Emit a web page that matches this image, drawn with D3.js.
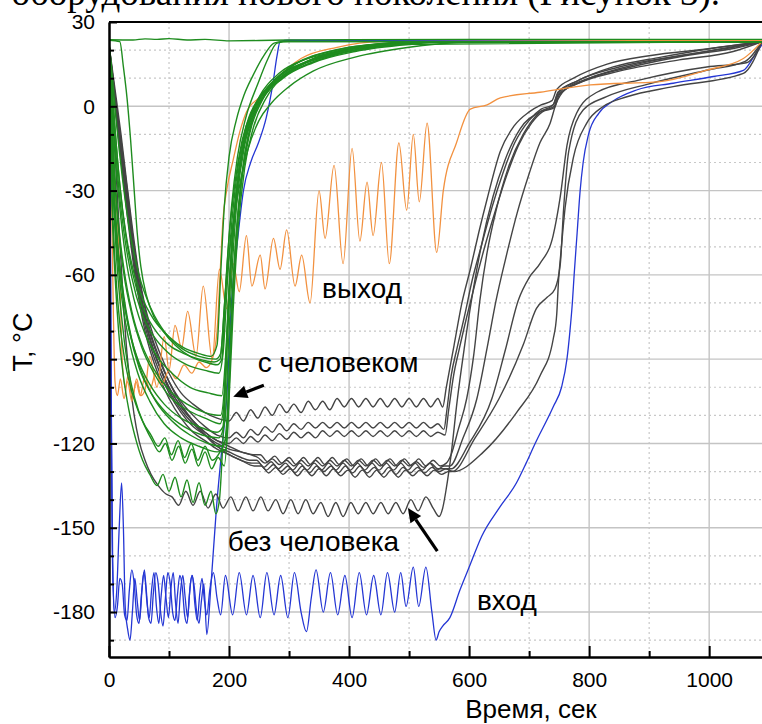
<!DOCTYPE html>
<html><head><meta charset="utf-8">
<script src="https://cdn.jsdelivr.net/npm/d3@7"></script>
<style>body{margin:0;background:#fff;} svg{display:block;}</style>
</head><body><svg id="c" width="762" height="724"></svg>
<script>
// ---------- axis ticks / texts ----------
const xTicks = [0,200,400,600,800,1000];
const xMinor = [100,300,500,700,900];
const yTicks = [30,0,-30,-60,-90,-120,-150,-180];
const yMinor = [20,10,-10,-20,-40,-50,-70,-80,-100,-110,-130,-140,-160,-170,-190];
const xTitle = "Время, сек";
const yTitle = "T, °C";
const topText = "оборудования нового поколения (Рисунок 3).";
const labelTexts = ["выход","с человеком","без человека","вход"];

// ---------- blue (вход) ----------
const blueLong = [[0,22],[2,-20],[4,-110],[6,-160],[9,-180],[13,-172],[17,-150],[21,-134],[24,-150],[27,-178],[31,-186],[35,-190],[39,-180],[43,-168],[47,-176],[51,-183],[55,-172],[59,-165],[63,-176],[67,-182],[71,-172],[75,-166],[79,-178],[83,-184],[87,-174],[91,-167],[95,-175],[99,-182],[103,-172],[107,-166],[111,-177],[115,-184],[119,-173],[123,-167],[127,-175],[131,-182],[135,-171],[139,-167],[143,-177],[147,-183],[151,-174],[155,-168],[159,-176],[163,-181],[168,-172],[174,-166],[180,-175],[186,-181],[194,-167],[206,-181],[217,-166],[229,-181],[240,-167],[252,-182],[263,-166],[275,-181],[286,-167],[298,-182],[309,-166],[320,-180],[329,-187],[337,-175],[345,-165],[357,-180],[369,-166],[381,-181],[393,-167],[405,-182],[417,-166],[429,-181],[441,-167],[453,-181],[464,-166],[476,-180],[486,-166],[495,-178],[507,-164],[516,-178],[528,-164],[538,-180],[545,-190],[550,-187],[556,-185],[568,-182],[585,-172],[602,-163],[621,-153],[650,-143],[679,-134],[695,-127],[710,-120],[740,-107],[754,-100],[763,-90],[768,-80],[772,-70],[775,-60],[780,-45],[785,-30],[790,-20],[799,-10],[816,-2.5],[838,1.6],[879,5.8],[940,8.2],[1007,10.6],[1057,12.8],[1074,17.5],[1088,22]];
const blueShort = [[0,22],[1,0],[3,-90],[5,-150],[7,-172],[10,-182],[14,-178],[18,-168],[22,-170],[26,-181],[30,-183],[34,-172],[38,-165],[42,-170],[46,-181],[50,-184],[54,-174],[58,-166],[62,-172],[66,-182],[70,-184],[74,-173],[78,-166],[82,-170],[86,-180],[90,-185],[94,-175],[98,-166],[102,-170],[106,-180],[110,-183],[114,-174],[118,-167],[122,-171],[126,-181],[130,-184],[134,-174],[138,-167],[142,-171],[146,-180],[150,-184],[154,-176],[158,-170],[163,-188],[170,-170],[179,-143],[188,-122],[196,-104],[204,-70],[214,-48],[224,-30],[236,-20],[249,-13],[262,-4],[273,8],[280,18],[285,23],[300,23.5],[1088,23.5]];

// ---------- orange (выход) ----------
const orangeA = [[0,22],[3,8],[6,-10],[10,-30],[14,-40],[18,-62],[22,-90],[27,-100],[33,-95],[39,-104],[46,-97],[53,-103],[60,-101],[68,-89],[80,-100],[92,-82],[100,-94],[110,-78],[121,-86],[131,-73],[145,-89],[157,-64],[172,-90],[184,-58],[196,-72],[207,-56],[217,-66],[229,-46],[238,-64],[252,-53],[260,-65],[274,-47],[285,-58],[296,-44],[310,-64],[321,-53],[335,-70],[350,-30],[360,-47],[375,-21],[390,-56],[405,-15],[418,-48],[430,-27],[440,-46],[454,-20],[467,-56],[483,-13],[496,-37],[507,-10],[517,-34],[530,-6],[546,-52],[557,-30],[579,-13],[602,-1],[630,0.5],[652,3],[718,5],[802,7.6],[918,8.8],[996,12.9],[1057,17],[1088,23]];
const orangeB = [[0,22],[2,5],[4,-30],[7,-70],[10,-98],[14,-103],[19,-97],[25,-104],[31,-98],[38,-105],[45,-98],[52,-103],[60,-96],[68,-101],[78,-95],[88,-99],[100,-94],[112,-97],[125,-92],[138,-95],[150,-91],[162,-93],[172,-90],[180,-80],[185,-60],[190,-40],[196,-30],[207,-19],[218,-9],[229,-2],[252,3.4],[280,10],[320,17],[380,21],[450,23],[1088,23.5]];

// ---------- green (с человеком) ----------
const green01 = [[0,23.5],[18,23],[24,14],[30,3],[36,-12],[42,-30],[47,-45],[53,-57],[62,-67],[75,-75],[90,-80],[110,-85],[135,-89],[160,-91],[180,-92],[188,-90],[195,-62],[204,-36],[214,-18],[228,-4],[248,8],[265,17],[280,22.5],[300,23],[1088,23]];
const green02 = [[0,23],[4,10],[10,-8],[18,-28],[28,-46],[40,-60],[55,-71],[75,-79],[100,-85],[125,-88],[150,-90],[175,-91],[185,-90],[192,-72],[200,-47],[210,-27],[222,-12],[240,-1],[265,7],[300,13],[350,17],[420,20.5],[500,22.3],[580,23],[1088,23]];
const green03 = [[0,23],[3,12],[8,-6],[15,-26],[25,-45],[38,-61],[55,-74],[75,-82],[100,-88],[130,-92],[160,-94],[183,-95],[190,-88],[198,-60],[206,-38],[216,-20],[230,-6],[250,3],[280,9],[320,14],[380,18.5],[460,21.5],[540,23],[1088,23]];
const green04 = [[0,23],[3,8],[9,-14],[17,-34],[28,-54],[42,-69],[60,-81],[80,-89],[105,-95],[135,-100],[165,-102],[188,-103],[194,-90],[200,-65],[208,-40],[218,-20],[232,-6],[252,4],[285,12],[330,17],[400,21],[480,22.5],[540,23],[1088,23]];
const green05 = [[0,23],[3,5],[8,-20],[15,-42],[25,-60],[38,-74],[55,-86],[75,-95],[100,-103],[130,-108],[160,-111],[185,-113],[192,-105],[198,-76],[206,-46],[215,-26],[228,-11],[248,1],[280,10],[330,16],[400,20.5],[500,22.8],[1088,23]];
const green06 = [[0,22],[2,5],[6,-22],[12,-45],[20,-62],[32,-78],[48,-90],[68,-99],[92,-106],[120,-111],[150,-114],[180,-116],[190,-114],[196,-86],[203,-56],[212,-31],[224,-13],[242,-1],[270,8],[310,15],[370,19],[450,22],[520,23],[1088,23]];
const green07 = [[0,23],[3,0],[8,-28],[15,-50],[25,-68],[38,-83],[55,-95],[78,-105],[105,-112],[135,-117],[165,-120],[190,-121],[197,-110],[203,-80],[210,-52],[220,-28],[234,-10],[255,2],[290,10],[340,15.5],[410,19.5],[500,22],[580,23],[1088,23]];
const green08 = [[0,23],[2,2],[6,-25],[12,-48],[20,-66],[32,-82],[48,-95],[68,-105],[92,-113],[120,-118],[150,-121],[180,-123],[195,-122],[201,-100],[207,-72],[215,-44],[226,-22],[240,-8],[262,3],[300,12],[360,18],[440,21.5],[520,23],[1088,23]];
const green09 = [[0,23],[2,0],[5,-30],[10,-55],[17,-75],[26,-90],[36,-100],[48,-108],[60,-114],[72,-119],[84,-123],[94,-120],[105,-126],[116,-121],[127,-127],[138,-122],[149,-128],[160,-123],[171,-129],[182,-125],[192,-128],[198,-112],[204,-78],[212,-48],[222,-24],[236,-7],[256,3],[290,11],[340,17],[420,21],[520,23],[1088,23]];
const green10 = [[0,23],[2,-5],[5,-35],[10,-60],[16,-80],[24,-96],[33,-108],[44,-118],[56,-126],[68,-131],[80,-135],[90,-131],[100,-137],[110,-132],[120,-139],[130,-133],[140,-141],[150,-134],[160,-142],[170,-137],[178,-145],[184,-140],[190,-118],[196,-88],[203,-58],[212,-33],[224,-14],[242,-1],[270,8],[310,15],[380,20],[470,22.5],[540,23],[1088,23]];
const green11 = [[0,23],[3,-2],[7,-30],[13,-55],[21,-75],[31,-92],[43,-104],[56,-112],[70,-117],[82,-121],[93,-118],[104,-124],[115,-119],[126,-125],[137,-120],[148,-126],[160,-121],[172,-126],[185,-123],[195,-118],[201,-92],[207,-62],[215,-37],[226,-17],[242,-3],[265,6],[305,13],[370,19],[460,22],[540,23],[1088,23]];
const green12 = [[0,23],[5,12],[12,-5],[22,-25],[35,-45],[50,-60],[70,-72],[95,-81],[120,-86],[150,-89],[178,-90],[186,-88],[194,-66],[204,-46],[216,-30],[232,-15],[250,-5],[270,1],[300,7],[340,12.5],[410,17.5],[500,21],[580,22.7],[640,23],[1088,23]];
const green13 = [[0,23],[3,6],[8,-18],[15,-40],[25,-58],[38,-73],[55,-85],[76,-94],[100,-101],[130,-106],[160,-109],[186,-110],[193,-98],[199,-70],[207,-42],[217,-22],[230,-8],[250,2],[280,9],[325,14.5],[390,19],[480,22],[560,23],[1088,23]];
const green14 = [[0,23.7],[40,23.6],[60,24],[80,23.8],[100,24.1],[130,23.6],[160,23.8],[200,23.3],[250,23.4],[300,23.6],[400,23.7],[600,23.8],[800,23.8],[1088,23.8]];
const green15 = [[0,23],[4,10],[10,-8],[18,-28],[28,-45],[40,-58],[55,-68],[75,-76],[100,-82],[125,-86],[150,-88],[170,-89],[180,-85],[186,-60],[192,-36],[200,-18],[212,-5],[225,4],[240,11],[258,18],[275,22.5],[290,23],[1088,23]];
const green16 = [[0,23],[2,4],[7,-24],[13,-46],[22,-65],[34,-80],[50,-93],[70,-102],[95,-109],[125,-114],[155,-117],[183,-118],[193,-112],[199,-85],[206,-55],[214,-32],[226,-14],[244,-2],[272,7],[315,14],[380,19],[470,22],[1088,23]];

// ---------- gray (без человека) ----------
const gray01 = [[0,22],[5,14],[10,6],[20,-10],[30,-28],[40,-45],[50,-60],[60,-71],[70,-79],[85,-88],[100,-95],[120,-102],[140,-106],[160,-109],[180,-111],[200,-112],[212,-109],[224,-112],[236,-108],[248,-111],[260,-107],[272,-110],[284,-106],[296,-109],[308,-106],[320,-109],[332,-105],[344,-108],[356,-105],[368,-108],[380,-104],[392,-107],[404,-104],[416,-107],[428,-104],[440,-107],[452,-104],[464,-107],[476,-104],[488,-107],[500,-104],[512,-107],[524,-104],[536,-107],[548,-104],[556,-107],[562,-100],[575,-85],[588,-70],[602,-58],[616,-45],[630,-33],[652,-16],[675,-7],[700,-2],[720,0.5],[738,2],[746,6],[774,10],[830,15],[900,18],[1000,20.5],[1088,23]];
const gray02 = [[0,22],[5,13],[10,4],[20,-13],[30,-31],[40,-49],[50,-63],[60,-74],[70,-82],[85,-91],[100,-98],[120,-105],[140,-110],[160,-114],[180,-117],[200,-118],[212,-116],[224,-118],[236,-115],[248,-117],[260,-114],[272,-116],[284,-113],[296,-115.5],[308,-113],[320,-115],[332,-112.5],[344,-114.5],[356,-112.5],[368,-114.5],[380,-112.5],[392,-114.5],[404,-112.5],[416,-114.5],[428,-112.5],[440,-114.5],[452,-112.5],[464,-114.5],[476,-112.5],[488,-114.5],[500,-112.5],[512,-114.5],[524,-112.5],[536,-114.5],[548,-113],[558,-115],[563,-108],[570,-96],[580,-86],[592,-75],[605,-62],[620,-50],[638,-36],[656,-24],[676,-13],[700,-5],[720,-1],[740,0.5],[748,4.5],[780,9],[850,14],[950,18],[1040,21],[1088,23]];
const gray03 = [[0,22],[5,12],[10,2],[20,-16],[30,-34],[40,-51],[50,-65],[60,-76],[70,-84],[85,-93],[100,-100],[120,-107],[140,-112],[160,-116],[180,-119],[200,-120],[212,-118],[224,-120],[236,-117.5],[248,-119.5],[260,-117],[272,-119],[284,-116.5],[296,-118.5],[308,-116],[320,-118],[332,-116],[344,-118],[356,-115.5],[368,-117.5],[380,-115.5],[392,-117.5],[404,-115.5],[416,-117.5],[428,-115.5],[440,-117.5],[452,-115.5],[464,-117.5],[476,-115.5],[488,-117.5],[500,-115.5],[512,-117.5],[524,-115.5],[536,-117.5],[548,-116],[560,-117],[566,-108],[574,-96],[584,-86],[596,-75],[610,-63],[626,-50],[644,-37],[662,-25],[682,-14],[704,-6],[722,-2],[742,-0.5],[750,4],[790,9],[870,14],[960,18],[1050,21],[1088,23]];
const gray04 = [[0,22],[5,11],[10,1],[20,-17],[30,-36],[40,-53],[50,-67],[60,-78],[70,-86],[85,-95],[100,-102],[120,-109],[140,-114],[160,-117],[180,-120],[200,-122],[220,-123],[240,-124],[252,-124],[264,-126.5],[276,-124.5],[288,-127],[300,-125],[312,-127.5],[324,-125],[336,-127.5],[348,-125],[360,-127.5],[372,-125],[384,-127.5],[396,-125.5],[408,-128],[420,-125.5],[432,-128],[444,-125.5],[456,-128],[468,-125.5],[480,-128],[492,-125.5],[504,-128],[516,-125.5],[528,-128],[540,-126],[552,-128],[562,-127],[570,-124],[582,-115],[596,-104],[608,-88],[618,-69],[630,-52],[645,-37],[665,-22],[690,-10],[718,-2],[740,0.5],[748,5],[780,9],[840,14],[920,17.5],[1000,20.5],[1088,23]];
const gray05 = [[0,22],[5,12],[10,3],[20,-14],[30,-32],[40,-50],[50,-64],[60,-75],[70,-84],[85,-93],[100,-101],[120,-108],[140,-113],[160,-117],[180,-121],[200,-123],[220,-125],[234,-126],[246,-126],[258,-128.5],[270,-126.5],[282,-129],[294,-127],[306,-129.5],[318,-127],[330,-129.5],[342,-127],[354,-129.5],[366,-127],[378,-129.5],[390,-127],[402,-129.5],[414,-127],[426,-129.5],[438,-127],[450,-129.5],[462,-127],[474,-129.5],[486,-127],[498,-129.5],[510,-127],[522,-129.5],[534,-127],[546,-129.5],[558,-128],[568,-128],[590,-118],[613,-104],[630,-86],[645,-69],[660,-55],[680,-38],[700,-24],[718,-13],[735,-6],[745,1],[760,6],[800,10],[880,15],[980,19],[1088,23]];
const gray06 = [[0,22],[5,10],[10,0],[20,-19],[30,-38],[40,-55],[50,-69],[60,-80],[70,-88],[85,-97],[100,-104],[120,-111],[140,-116],[160,-119],[180,-122],[200,-124],[220,-126],[238,-127],[250,-127],[262,-129.5],[274,-127.5],[286,-130],[298,-128],[310,-130.5],[322,-128],[334,-130.5],[346,-128],[358,-130],[370,-128],[382,-130.5],[394,-128],[406,-130.5],[418,-128],[430,-130.5],[442,-128.5],[454,-131],[466,-128.5],[478,-131],[490,-128.5],[502,-130.5],[514,-128.5],[526,-130.5],[538,-128.5],[550,-130],[562,-129],[570,-129],[600,-120],[638,-104],[660,-87],[682,-69],[700,-61],[718,-56],[740,-46],[752,-32],[763,-14],[779,-2.5],[813,5],[885,9.4],[996,14],[1062,15.5],[1088,23]];
const gray07 = [[0,22],[5,13],[10,4],[20,-12],[30,-29],[40,-47],[50,-61],[60,-72],[70,-81],[85,-90],[100,-98],[120,-106],[140,-112],[160,-117],[180,-121],[200,-124],[220,-126],[242,-128],[254,-128],[266,-130.5],[278,-128.5],[290,-131],[302,-129],[314,-131.5],[326,-129],[338,-131.5],[350,-129],[362,-131.5],[374,-129],[386,-131.5],[398,-129.5],[410,-132],[422,-129.5],[434,-132],[446,-129.5],[458,-132],[470,-129.5],[482,-132],[494,-129.5],[506,-131.5],[518,-129.5],[530,-131.5],[542,-129.5],[554,-131],[566,-130],[572,-130],[610,-118],[650,-104],[690,-85],[712,-72],[730,-68],[743,-65],[752,-56],[757,-38],[766,-16],[790,-1.3],[829,3.4],[900,8],[1000,13],[1060,16],[1088,23]];
const gray08 = [[0,22],[5,11],[10,2],[20,-15],[30,-33],[40,-51],[50,-65],[60,-76],[70,-84],[85,-93],[100,-100],[120,-107],[140,-112],[160,-116],[180,-119],[200,-121],[220,-123],[236,-124],[248,-125],[260,-127],[272,-125.5],[284,-127.5],[296,-126],[308,-128],[320,-126],[332,-128],[344,-126],[356,-128],[368,-126],[380,-128],[392,-126],[404,-128],[416,-126],[428,-128],[440,-126],[452,-128],[464,-126],[476,-128],[488,-126],[500,-128],[512,-126.5],[524,-128.5],[536,-127],[548,-129],[560,-129],[574,-130],[624,-123],[679,-109],[718,-96],[740,-83],[746,-74],[749,-62],[753,-52],[760,-36],[774,-18],[796,-6],[824,0],[863,3.4],[940,7],[1057,11.7],[1088,23]];
const gray09 = [[0,22],[4,8],[8,-8],[13,-28],[18,-48],[24,-70],[30,-88],[36,-100],[42,-110],[50,-119],[60,-126],[70,-131],[82,-135],[95,-138],[105,-139],[116,-142],[128,-137],[140,-142],[152,-137],[165,-143],[178,-138],[190,-143],[203,-139],[215,-144],[228,-139],[240,-144],[253,-139],[265,-144],[278,-140],[290,-145],[303,-140],[315,-145],[328,-140],[340,-145],[353,-141],[365,-146],[378,-141],[390,-146],[403,-141],[415,-145],[428,-141],[440,-145],[453,-141],[465,-145],[478,-141],[490,-145],[503,-140],[515,-144],[528,-139],[540,-143],[550,-146],[556,-143],[562,-136],[570,-124],[580,-105],[592,-86],[604,-69],[620,-50],[640,-32],[660,-19],[685,-8],[718,-2],[742,0],[748,4],[780,8],[850,12.5],[950,16.5],[1040,19.5],[1088,23]];

const blueSeries = [blueLong, blueShort];
const graySeries = [gray01, gray02, gray03, gray04, gray05, gray06, gray07, gray08, gray09];
const orangeSeries = [orangeA, orangeB];
const greenSeries = [green01, green02, green03, green04, green05, green06, green07, green08, green09, green10, green11, green12, green13, green14, green15, green16];

// ---------- drawing ----------
const svg = d3.select("#c");
const L = 109, R = 762, T = 22, B = 657;
const x = d3.scaleLinear().domain([0, 1088]).range([L, R]);
const y = d3.scaleLinear().domain([-196, 30]).range([B, T]);

svg.append("text").attr("x", 720).attr("y", 5).attr("text-anchor", "end")
  .attr("font-family", "Liberation Serif, Times New Roman, serif").attr("font-size", 37)
  .attr("fill", "#000").text(topText);

const grid = svg.append("g");
grid.selectAll(".vmaj").data(xTicks.filter(d => d > 0)).join("line")
  .attr("x1", d => x(d)).attr("x2", d => x(d)).attr("y1", T).attr("y2", B)
  .attr("stroke", "#c4c4c4").attr("stroke-width", 1.4);
grid.selectAll(".vmin").data(xMinor).join("line").attr("class","vmin")
  .attr("x1", d => x(d)).attr("x2", d => x(d)).attr("y1", T).attr("y2", B)
  .attr("stroke", "#c8c8c8").attr("stroke-width", 1.2).attr("stroke-dasharray", "2,3");
grid.selectAll(".hmaj").data(yTicks.filter(d => d < 30)).join("line").attr("class","hmaj")
  .attr("x1", L).attr("x2", R).attr("y1", d => y(d)).attr("y2", d => y(d))
  .attr("stroke", "#c4c4c4").attr("stroke-width", 1.4);
grid.selectAll(".hmin").data(yMinor).join("line").attr("class","hmin")
  .attr("x1", L).attr("x2", R).attr("y1", d => y(d)).attr("y2", d => y(d))
  .attr("stroke", "#c8c8c8").attr("stroke-width", 1.2).attr("stroke-dasharray", "2,3");

svg.append("clipPath").attr("id", "clip").append("rect")
  .attr("x", L).attr("y", T).attr("width", R - L).attr("height", B - T);
const plot = svg.append("g").attr("clip-path", "url(#clip)");
const line = d3.line().x(d => x(d[0])).y(d => y(d[1])).curve(d3.curveMonotoneX);

function draw(series, color, w) {
  plot.append("g").selectAll("path").data(series).join("path")
    .attr("d", line).attr("fill", "none").attr("stroke", color)
    .attr("stroke-width", w).attr("stroke-linejoin", "round");
}
draw(blueSeries, "#2436d4", 1.3);
draw(graySeries, "#444444", 1.4);
draw(orangeSeries, "#f2913f", 1.3);
draw(greenSeries, "#1f8c1f", 1.4);

// axes
const fontAx = "Liberation Sans, Arial, sans-serif";
const xAxis = svg.append("g").attr("transform", `translate(0,${B})`)
  .call(d3.axisBottom(x).tickValues(xTicks).tickFormat(d => String(d)).tickSizeInner(-11).tickSizeOuter(0).tickPadding(15));
const xAxisMin = svg.append("g").attr("transform", `translate(0,${B})`)
  .call(d3.axisBottom(x).tickValues(xMinor).tickFormat("").tickSizeInner(-6).tickSizeOuter(0));
const yAxis = svg.append("g").attr("transform", `translate(${L},0)`)
  .call(d3.axisLeft(y).tickValues(yTicks).tickFormat(d => String(d)).tickSizeInner(-8).tickSizeOuter(0).tickPadding(14));
const yAxisMin = svg.append("g").attr("transform", `translate(${L},0)`)
  .call(d3.axisLeft(y).tickValues(yMinor).tickFormat("").tickSizeInner(-5).tickSizeOuter(0));
[xAxis, xAxisMin, yAxis, yAxisMin].forEach(g => {
  g.select(".domain").attr("stroke", "#000").attr("stroke-width", 2);
  g.selectAll(".tick line").attr("stroke", "#000").attr("stroke-width", 2);
  g.selectAll(".tick text").attr("font-family", fontAx).attr("font-size", 21).attr("fill", "#000");
});
svg.append("line").attr("x1", L).attr("x2", R).attr("y1", T).attr("y2", T)
  .attr("stroke", "#000").attr("stroke-width", 2);

svg.append("text").attr("x", 531).attr("y", 718).attr("text-anchor", "middle")
  .attr("font-family", fontAx).attr("font-size", 26).text(xTitle);
svg.append("text").attr("transform", "translate(32,342) rotate(-90)").attr("text-anchor", "middle")
  .attr("font-family", fontAx).attr("font-size", 27).text(yTitle);

// annotations
const ann = svg.append("g").attr("font-family", fontAx).attr("font-size", 28).attr("fill", "#000");
ann.append("text").attr("x", x(355)).attr("y", y(-68.2)).text(labelTexts[0]);
ann.append("text").attr("x", x(248)).attr("y", y(-94.6)).text(labelTexts[1]);
ann.append("text").attr("x", x(198)).attr("y", y(-158.3)).text(labelTexts[2]);
ann.append("text").attr("x", x(613)).attr("y", y(-179.2)).text(labelTexts[3]);

function arrow(t0, v0, t1, v1) {
  const x0 = x(t0), y0 = y(v0), x1 = x(t1), y1 = y(v1);
  const a = Math.atan2(y1 - y0, x1 - x0), hl = 14, hw = 6.5;
  const bx = x1 - hl * Math.cos(a), by = y1 - hl * Math.sin(a);
  svg.append("line").attr("x1", x0).attr("y1", y0).attr("x2", bx).attr("y2", by)
    .attr("stroke", "#000").attr("stroke-width", 3.2);
  svg.append("path").attr("d", `M${x1},${y1}L${bx + hw * Math.sin(a)},${by - hw * Math.cos(a)}L${bx - hw * Math.sin(a)},${by + hw * Math.cos(a)}Z`)
    .attr("fill", "#000");
}
arrow(258, -99.3, 207, -103.4);
arrow(547, -158.3, 498, -143);
</script></body></html>
